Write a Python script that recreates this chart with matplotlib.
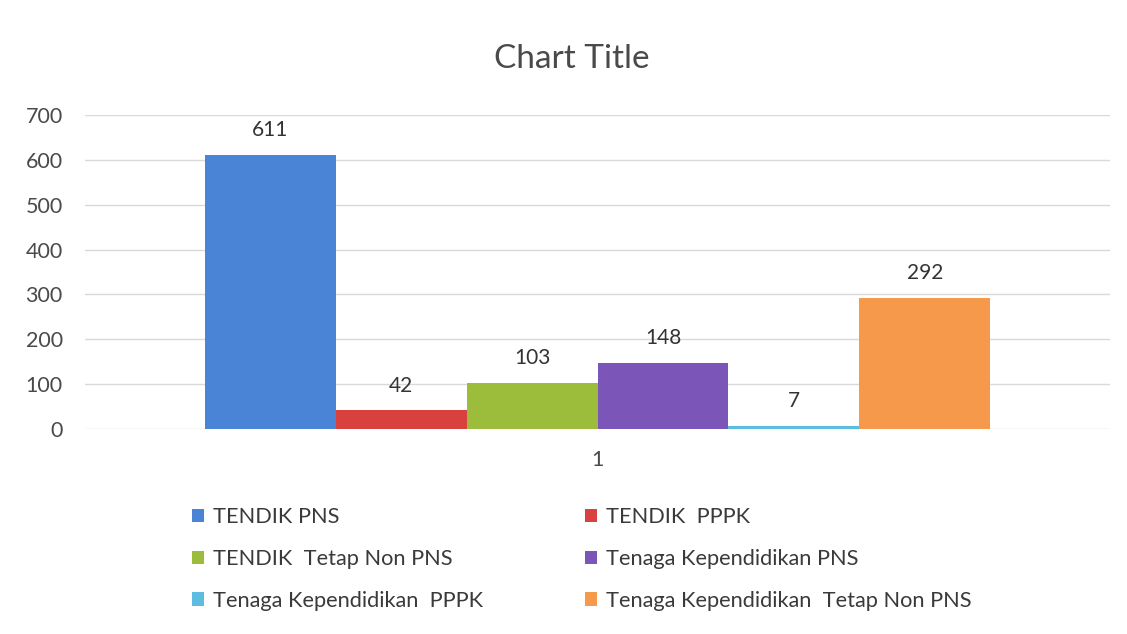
import matplotlib
matplotlib.use("Agg")
import matplotlib.pyplot as plt
from matplotlib.patches import Patch

plt.rcParams['font.family'] = ['Lato', 'DejaVu Sans']

categories = ["1"]
series_names = [
    "TENDIK PNS",
    "TENDIK  PPPK",
    "TENDIK  Tetap Non PNS",
    "Tenaga Kependidikan PNS",
    "Tenaga Kependidikan  PPPK",
    "Tenaga Kependidikan  Tetap Non PNS",
]
values = [611, 42, 103, 148, 7, 292]
colors = ["#4a84d6", "#d9413f", "#9cbd3c", "#7b56b8", "#5cbde0", "#f7994b"]
yticks = [0, 100, 200, 300, 400, 500, 600, 700]

fig = plt.figure(figsize=(11.27, 6.34), dpi=100)
fig.patch.set_facecolor("white")
ax = fig.add_axes([0.0754, 0.3233, 0.9096, 0.4953])

n = len(values)
group_w = 0.766
bw = group_w / n
handles = []
for i, (name, v, c) in enumerate(zip(series_names, values, colors)):
    x = -group_w / 2 + bw * (i + 0.5)
    ax.bar(x, v, width=bw, color=c, zorder=3)
    ax.annotate(str(v), (x, v), xytext=(0, 10.5), textcoords="offset points",
                ha="center", va="bottom", fontsize=15, color="#333333")
    handles.append(Patch(facecolor=c, label=name))

ax.set_xlim(-0.5, 0.5)
ax.set_ylim(0, 700)
ax.set_yticks(yticks)
ax.set_xticks([0])
ax.set_xticklabels(categories)
ax.tick_params(axis="both", length=0, labelsize=15.5, labelcolor="#4a4a4a")
ax.tick_params(axis="y", pad=16)
ax.tick_params(axis="x", pad=15)
ax.grid(axis="y", color="#d9d9d9", linewidth=1, zorder=0)
for s in ax.spines.values():
    s.set_visible(False)

fig.text(0.507, 0.907, "Chart Title", ha="center", va="center", fontsize=24, color="#4a4a4a")

kw = dict(frameon=False, fontsize=15.7, handlelength=0.55, handleheight=0.55,
          handletextpad=0.4, labelspacing=1.0, labelcolor="#3a3a3a")
leg1 = fig.legend(handles=[handles[0], handles[2], handles[4]], loc="upper left",
                  bbox_to_anchor=(0.153, 0.231), **kw)
leg2 = fig.legend(handles=[handles[1], handles[3], handles[5]], loc="upper left",
                  bbox_to_anchor=(0.502, 0.231), **kw)

fig.savefig("out.png", dpi=100)
